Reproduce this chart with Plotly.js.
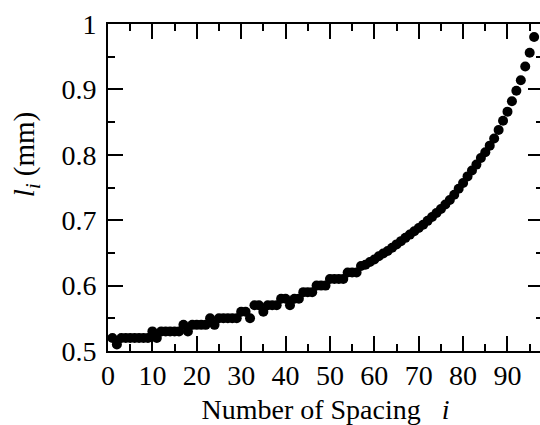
<!DOCTYPE html>
<html>
<head>
<meta charset="utf-8">
<script src="https://cdn.plot.ly/plotly-3.0.1.min.js"></script>
<style>
html, body { margin: 0; padding: 0; overflow: hidden; background: #fff; }
#chart { width: 545px; height: 425px; }
</style>
</head>
<body>
<div id="chart"></div>
<script>
// Spacing index i
const spacingIndex = [];
for (let k = 1; k <= 96; k++) spacingIndex.push(k);

// l_i (mm)
const spacingLength = [
  0.52, 0.51, 0.52, 0.52, 0.52, 0.52, 0.52, 0.52, 0.52, 0.53,
  0.52, 0.53, 0.53, 0.53, 0.53, 0.53, 0.54, 0.53, 0.54, 0.54,
  0.54, 0.54, 0.55, 0.54, 0.55, 0.55, 0.55, 0.55, 0.55, 0.56,
  0.56, 0.55, 0.57, 0.57, 0.56, 0.57, 0.57, 0.57, 0.58, 0.58,
  0.57, 0.58, 0.58, 0.59, 0.59, 0.59, 0.60, 0.60, 0.60, 0.61,
  0.61, 0.61, 0.61, 0.62, 0.62, 0.62, 0.63, 0.632, 0.636, 0.640,
  0.645, 0.649, 0.653, 0.658, 0.663, 0.668, 0.673, 0.678, 0.683, 0.688,
  0.693, 0.699, 0.705, 0.711, 0.717, 0.724, 0.731, 0.739, 0.748, 0.757,
  0.767, 0.776, 0.785, 0.795, 0.804, 0.814, 0.825, 0.838, 0.852, 0.866,
  0.882, 0.898, 0.914, 0.935, 0.956, 0.980
];

const xTickVals = [0, 10, 20, 30, 40, 50, 60, 70, 80, 90];
const yTickVals = [0.5, 0.6, 0.7, 0.8, 0.9, 1];
const yTickText = ['0.5', '0.6', '0.7', '0.8', '0.9', '1'];

const serif = "'Liberation Serif', 'Times New Roman', Times, serif";

const trace = {
  x: spacingIndex,
  y: spacingLength,
  type: 'scatter',
  mode: 'markers',
  marker: { color: '#000', size: 10, line: { width: 0 } },
  hoverinfo: 'x+y'
};

const axisCommon = {
  showline: true,
  linecolor: '#000',
  linewidth: 2,
  mirror: 'ticks',
  ticks: 'inside',
  tickcolor: '#000',
  tickwidth: 2,
  ticklen: 15,
  showgrid: false,
  zeroline: false,
  tickfont: { family: serif, size: 28, color: '#000' }
};

const layout = {
  width: 545,
  height: 425,
  margin: { l: 108, r: 2, t: 24, b: 74 },
  paper_bgcolor: '#fff',
  plot_bgcolor: '#fff',
  showlegend: false,
  font: { family: serif, color: '#000' },
  xaxis: Object.assign({}, axisCommon, {
    range: [0, 98],
    tickvals: xTickVals,
    ticktext: xTickVals.map(String),
    ticklabelstandoff: -2,
    minor: { dtick: 5, tick0: 0, ticks: 'inside', ticklen: 7, tickwidth: 2, tickcolor: '#000' },
    title: { text: 'Number of Spacing&nbsp;&nbsp;&nbsp;<i>i</i>', font: { family: serif, size: 28, color: '#000' }, standoff: 10 }
  }),
  yaxis: Object.assign({}, axisCommon, {
    range: [0.5, 1.0],
    tickvals: yTickVals,
    ticktext: yTickText,
    ticklabelstandoff: 4,
    minor: { dtick: 0.05, tick0: 0.5, ticks: 'inside', ticklen: 7, tickwidth: 2, tickcolor: '#000' }
  }),
  annotations: [{
    xref: 'paper', yref: 'paper',
    x: -0.19, y: 0.6,
    xanchor: 'center', yanchor: 'middle',
    textangle: -90,
    showarrow: false,
    text: '<i>l<sub>i</sub></i> (mm)',
    font: { family: serif, size: 29, color: '#000' }
  }]
};

Plotly.newPlot('chart', [trace], layout, { displayModeBar: false, staticPlot: true });
</script>
</body>
</html>
